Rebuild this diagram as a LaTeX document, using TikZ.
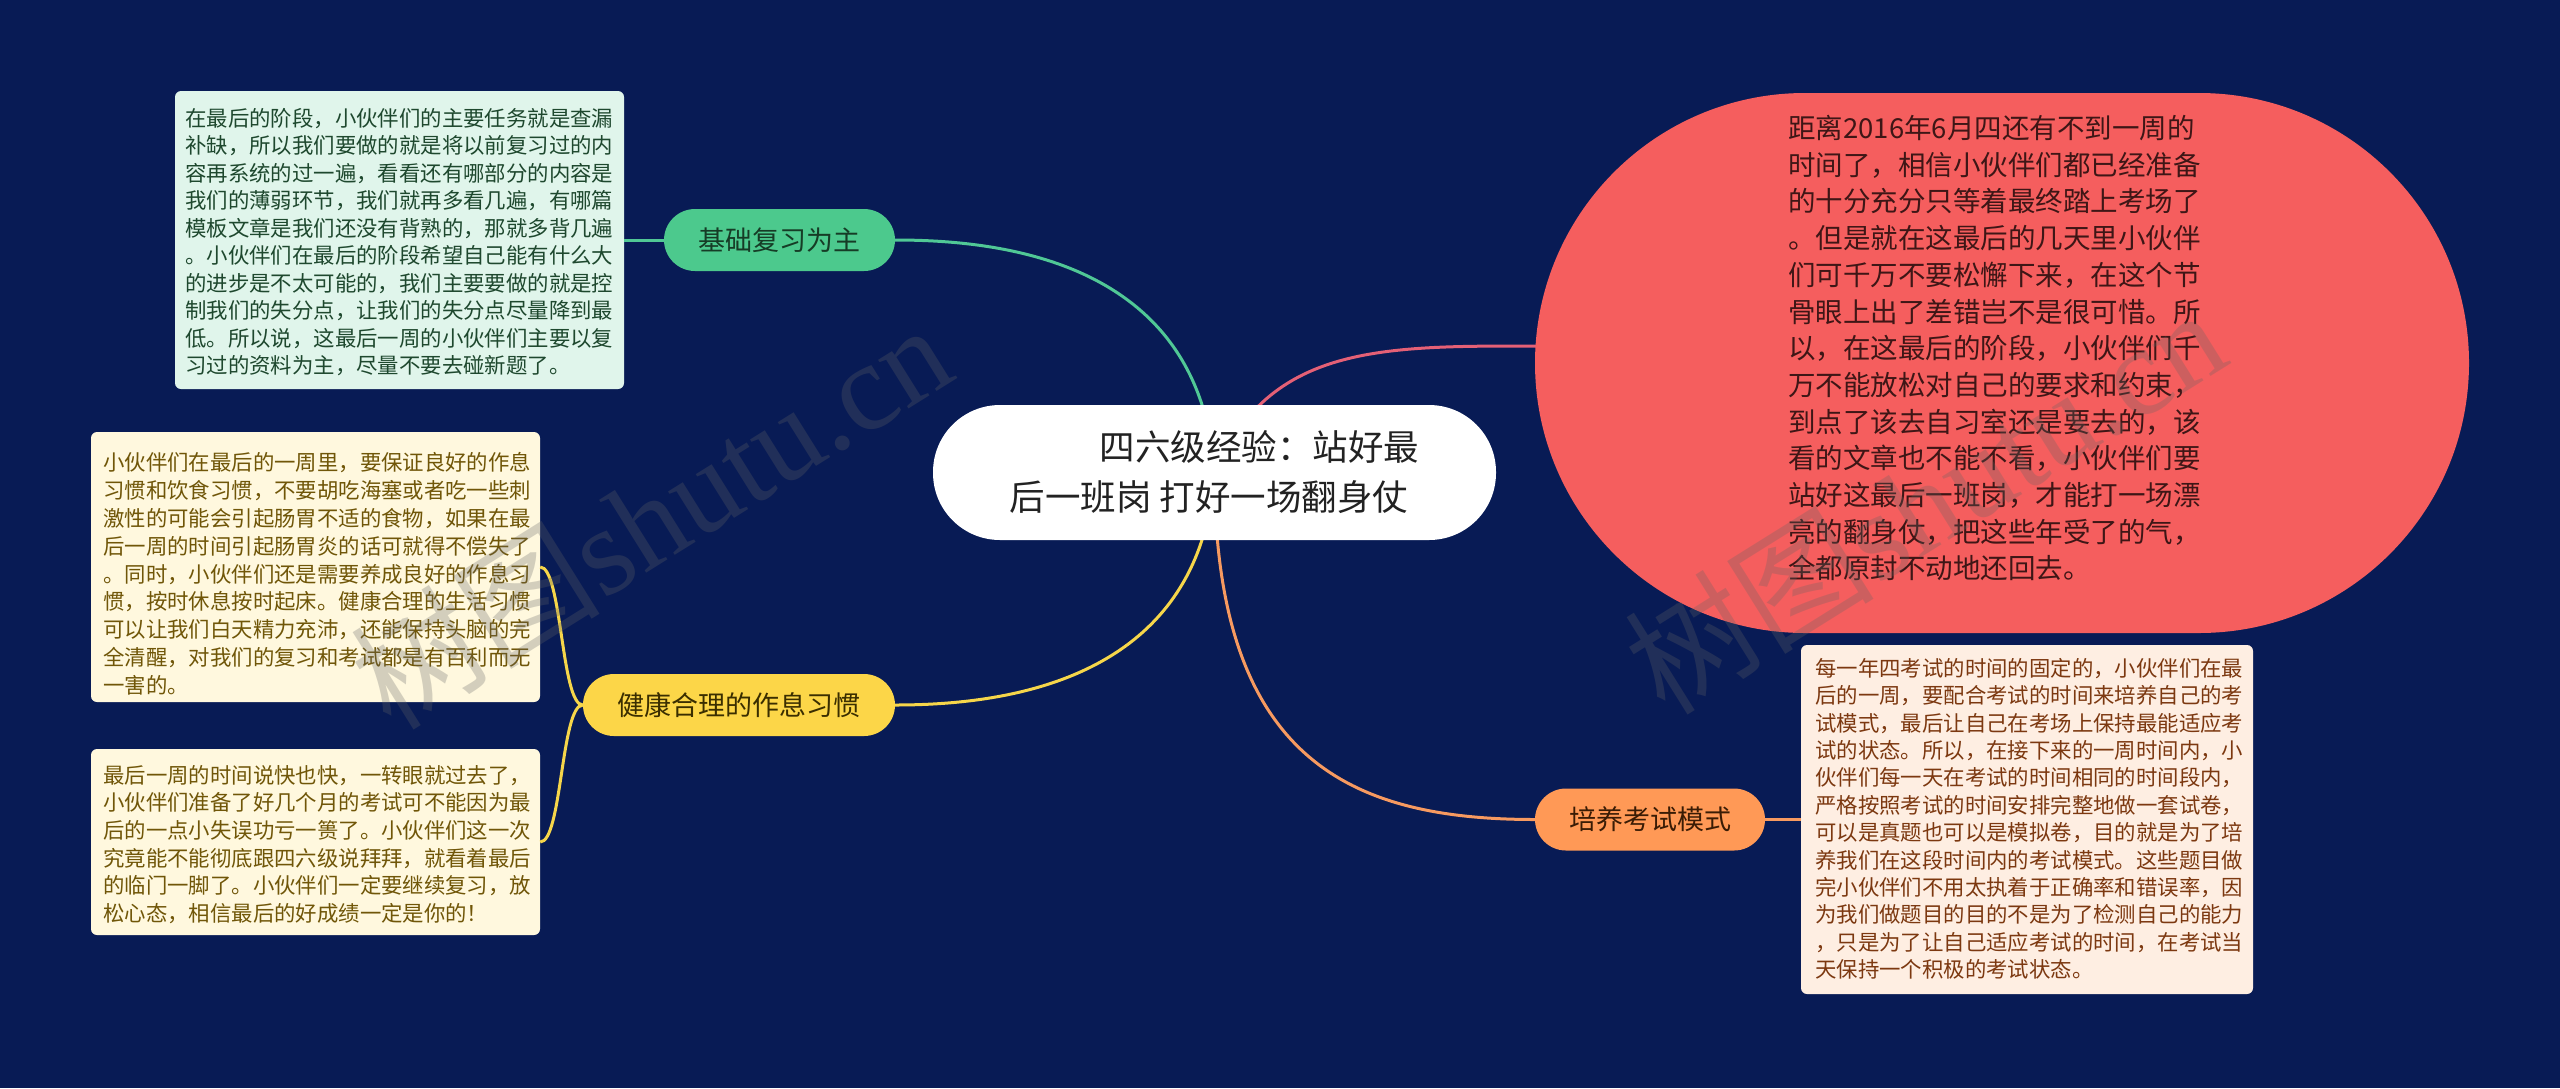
\documentclass[tikz,border=0pt]{standalone}
\usepackage{fontspec}
\setmainfont{Noto Sans CJK SC}
\newfontfamily\wmlatin{Liberation Serif}
\usetikzlibrary{calc}
\definecolor{navybg}{RGB}{8,27,85}
\definecolor{gfill}{RGB}{76,201,141}
\definecolor{gtext}{RGB}{22,60,38}
\definecolor{gboxfill}{RGB}{224,245,235}
\definecolor{gboxtext}{RGB}{30,72,46}
\definecolor{gline}{RGB}{80,200,150}
\definecolor{yfill}{RGB}{252,214,72}
\definecolor{ytext}{RGB}{58,46,0}
\definecolor{yboxfill}{RGB}{255,248,222}
\definecolor{yboxtext}{RGB}{112,86,8}
\definecolor{yline}{RGB}{246,214,74}
\definecolor{rfill}{RGB}{245,94,94}
\definecolor{rtext}{RGB}{62,22,22}
\definecolor{rline}{RGB}{228,96,118}
\definecolor{ofill}{RGB}{255,153,86}
\definecolor{otext}{RGB}{58,28,5}
\definecolor{oboxfill}{RGB}{254,238,226}
\definecolor{oboxtext}{RGB}{124,56,16}
\definecolor{oline}{RGB}{247,154,96}
\definecolor{ctext}{RGB}{34,34,34}
\definecolor{wmgray}{RGB}{100,100,100}
\begin{document}
\begin{tikzpicture}[x=1pt,y=-1pt,
  box/.style={rectangle, rounded corners=6pt, inner sep=0pt},
  pill/.style={rectangle, rounded corners=31pt, inner sep=0pt, minimum height=62pt, font=\fontsize{27pt}{32pt}\selectfont},
  body/.style={inner sep=0pt, anchor=north west, align=left, font=\fontsize{21.4pt}{27.5pt}\selectfont},
  link/.style={line width=3pt},
  wm/.style={rotate=32, text=wmgray, opacity=0.28, inner sep=0pt, font=\fontsize{125pt}{130pt}\selectfont}
]
\fill[navybg] (0,0) rectangle (2560,1088);
\useasboundingbox (0,0) rectangle (2560,1088);

\path
  (1214.5,472.5) coordinate (Cc)
  (1536,346) coordinate (Rin);

% connectors from the central topic
\draw[link, gline] (Cc) .. controls (1200,260) and (1000,240) .. (895,240) coordinate (GPe);
\draw[link, rline] (Cc) .. controls (1270,345) and (1380,346) .. (Rin);
\draw[link, yline] (Cc) .. controls (1200,684) and (1000,705) .. (895,705) coordinate (YPe);
\draw[link, oline] (Cc) .. controls (1215,760) and (1350,819.5) .. (1535,819.5) coordinate (OPw);

% nodes
\node[rectangle, rounded corners=67pt, fill=white, minimum width=563pt, minimum height=135pt, inner sep=0pt,
      align=left, text=ctext, font=\fontsize{35.5pt}{50pt}\selectfont] (C) at (Cc)
  {\hspace*{90pt}四六级经验：站好最\\后一班岗 打好一场翻身仗};

\node[pill, fill=gfill, text=gtext, minimum width=231pt] (GP) at (779.5,240) {基础复习为主};
\node[pill, fill=yfill, text=ytext, minimum width=312pt] (YP) at (739,705) {健康合理的作息习惯};
\node[pill, fill=ofill, text=otext, minimum width=230pt] (OP) at (1650,819.5) {培养考试模式};

\node[box, fill=gboxfill, minimum width=449pt, minimum height=298pt] (G) at (399.5,240) {};
\node[box, fill=yboxfill, minimum width=449pt, minimum height=270pt] (Y1) at (315.5,567) {};
\node[box, fill=yboxfill, minimum width=449pt, minimum height=186pt] (Y2) at (315.5,842) {};
\node[box, fill=oboxfill, minimum width=452pt, minimum height=349pt] (O) at (2027,819.5) {};
\node[rectangle, rounded corners=270pt, fill=rfill, minimum width=934pt, minimum height=540pt, inner sep=0pt] (R) at (2002,363) {};

% short connectors
\draw[link, gline] (GP.west) -- (G.east);
\draw[link, yline] (YP.west) .. controls (561,705) and (562,567) .. (Y1.east);
\draw[link, yline] (YP.west) .. controls (561,705) and (562,842) .. (Y2.east);
\draw[link, oline] (OP.east) -- (O.west);

% body texts
\node[body, text=gboxtext] (Gt) at (185,108) {在最后的阶段，小伙伴们的主要任务就是查漏\\
补缺，所以我们要做的就是将以前复习过的内\\
容再系统的过一遍，看看还有哪部分的内容是\\
我们的薄弱环节，我们就再多看几遍，有哪篇\\
模板文章是我们还没有背熟的，那就多背几遍\\
。小伙伴们在最后的阶段希望自己能有什么大\\
的进步是不太可能的，我们主要要做的就是控\\
制我们的失分点，让我们的失分点尽量降到最\\
低。所以说，这最后一周的小伙伴们主要以复\\
习过的资料为主，尽量不要去碰新题了。};

\node[body, text=yboxtext, font=\fontsize{21.4pt}{27.9pt}\selectfont] (Y1t) at (103,452) {小伙伴们在最后的一周里，要保证良好的作息\\
习惯和饮食习惯，不要胡吃海塞或者吃一些刺\\
激性的可能会引起肠胃不适的食物，如果在最\\
后一周的时间引起肠胃炎的话可就得不偿失了\\
。同时，小伙伴们还是需要养成良好的作息习\\
惯，按时休息按时起床。健康合理的生活习惯\\
可以让我们白天精力充沛，还能保持头脑的完\\
全清醒，对我们的复习和考试都是有百利而无\\
一害的。};

\node[body, text=yboxtext, font=\fontsize{21.4pt}{27.6pt}\selectfont] (Y2t) at (103,765) {最后一周的时间说快也快，一转眼就过去了，\\
小伙伴们准备了好几个月的考试可不能因为最\\
后的一点小失误功亏一篑了。小伙伴们这一次\\
究竟能不能彻底跟四六级说拜拜，就看着最后\\
的临门一脚了。小伙伴们一定要继续复习，放\\
松心态，相信最后的好成绩一定是你的！};

\node[body, text=rtext, font=\fontsize{27.5pt}{36.7pt}\selectfont] (Rt) at (1788,115) {距离2016年6月四还有不到一周的\\
时间了，相信小伙伴们都已经准备\\
的十分充分只等着最终踏上考场了\\
。但是就在这最后的几天里小伙伴\\
们可千万不要松懈下来，在这个节\\
骨眼上出了差错岂不是很可惜。所\\
以，在这最后的阶段，小伙伴们千\\
万不能放松对自己的要求和约束，\\
到点了该去自习室还是要去的，该\\
看的文章也不能不看，小伙伴们要\\
站好这最后一班岗，才能打一场漂\\
亮的翻身仗，把这些年受了的气，\\
全都原封不动地还回去。};

\node[body, text=oboxtext, font=\fontsize{21.4pt}{27.4pt}\selectfont] (Ot) at (1815,658) {每一年四考试的时间的固定的，小伙伴们在最\\
后的一周，要配合考试的时间来培养自己的考\\
试模式，最后让自己在考场上保持最能适应考\\
试的状态。所以，在接下来的一周时间内，小\\
伙伴们每一天在考试的时间相同的时间段内，\\
严格按照考试的时间安排完整地做一套试卷，\\
可以是真题也可以是模拟卷，目的就是为了培\\
养我们在这段时间内的考试模式。这些题目做\\
完小伙伴们不用太执着于正确率和错误率，因\\
为我们做题目的目的不是为了检测自己的能力\\
，只是为了让自己适应考试的时间，在考试当\\
天保持一个积极的考试状态。};

% watermarks
\node[wm] (W1) at (650,515) {树图{\wmlatin shutu.cn}};
\node[wm] (W2) at (1924,500) {树图{\wmlatin shutu.cn}};
\end{tikzpicture}
\end{document}
